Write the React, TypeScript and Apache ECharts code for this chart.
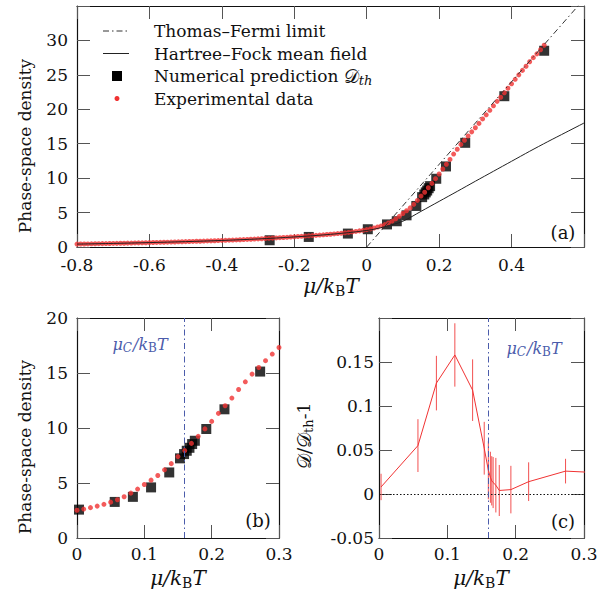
import React, { useEffect, useRef } from "react";
import * as echarts from "echarts";

const FONT = "DejaVu Serif";
const RED = "#f03232";
const BLUE = "#4b5cab";

// Experimental phase-space density, one reading every 0.01 of mu/kBT from -0.80 to 0.49
const expMuStart = -0.8;
const expMuStep = 0.01;
const expD = [
  0.42, 0.43, 0.44, 0.45, 0.46, 0.47, 0.48, 0.49, 0.5, 0.51,
  0.52, 0.53, 0.54, 0.55, 0.56, 0.57, 0.59, 0.6, 0.61, 0.62,
  0.64, 0.65, 0.66, 0.68, 0.69, 0.7, 0.72, 0.73, 0.75, 0.76,
  0.78, 0.8, 0.81, 0.83, 0.84, 0.86, 0.88, 0.89, 0.91, 0.93,
  0.95, 0.97, 0.99, 1.01, 1.03, 1.05, 1.08, 1.1, 1.12, 1.15,
  1.18, 1.2, 1.23, 1.26, 1.29, 1.32, 1.35, 1.38, 1.41, 1.45,
  1.48, 1.52, 1.55, 1.59, 1.62, 1.66, 1.7, 1.73, 1.77, 1.81,
  1.85, 1.9, 1.95, 2.0, 2.06, 2.12, 2.19, 2.26, 2.34, 2.42,
  2.52, 2.63, 2.76, 2.9, 3.06, 3.26, 3.48, 3.75, 4.08, 4.45,
  4.86, 5.26, 5.68, 6.2, 6.76, 7.4, 7.95, 8.6, 9.24, 9.92,
  10.6, 11.33, 12.02, 12.72, 13.5, 14.2, 14.9, 15.5, 16.12, 16.72,
  17.32, 17.95, 18.6, 19.2, 19.85, 20.5, 21.15, 21.75, 22.4, 23.05,
  23.7, 24.35, 25.0, 25.65, 26.25, 26.9, 27.5, 28.05, 28.65, 29.3,
];

// Numerical prediction D_th
const numMu = [-0.268, -0.16, -0.052, 0.003, 0.056, 0.083, 0.11, 0.137, 0.153, 0.159, 0.163, 0.167, 0.171, 0.175, 0.192, 0.219, 0.272, 0.38, 0.49];
const numD = [0.98, 1.46, 1.95, 2.58, 3.28, 3.74, 4.6, 5.96, 7.24, 7.63, 7.93, 8.2, 8.54, 8.84, 9.91, 11.7, 15.13, 21.9, 28.5];

// Hartree-Fock mean field
const hfMu = [-0.8, -0.7, -0.6, -0.5, -0.4, -0.3, -0.2, -0.1, 0, 0.05, 0.1, 0.15, 0.2, 0.25, 0.3, 0.35, 0.4, 0.45, 0.5, 0.55, 0.6];
const hfD = [0.42, 0.52, 0.64, 0.78, 0.95, 1.17, 1.46, 1.84, 2.4, 2.95, 3.75, 5.18, 6.63, 8.08, 9.55, 11.0, 12.45, 13.9, 15.3, 16.65, 18.0];

// Thomas-Fermi limit (straight line)
const tfMu = [0, 0.6];
const tfD = [0, 36];

// Residual D/D_th - 1 with error bars
const resMu = [0.003, 0.057, 0.084, 0.111, 0.137, 0.154, 0.16, 0.163, 0.165, 0.167, 0.171, 0.176, 0.193, 0.219, 0.273, 0.38];
const resVal = [0.008, 0.055, 0.126, 0.158, 0.118, 0.052, 0.027, 0.019, 0.015, 0.013, 0.01, 0.004, 0.005, 0.014, 0.026, 0.022];
const resErr = [0.015, 0.03, 0.031, 0.036, 0.035, 0.03, 0.033, 0.029, 0.028, 0.029, 0.031, 0.029, 0.027, 0.022, 0.014, 0.02];

const muC = 0.161;

const fmt = (hide: number[]) => (v: number) => {
  const r = Math.round(v * 100) / 100;
  if (hide.some((h) => Math.abs(h - r) < 1e-9)) return "";
  return String(r);
};

const tickStyle = { inside: true, length: 13, lineStyle: { color: "#555", width: 1 } };
const lineStyleAxis = { show: true, onZero: false, lineStyle: { color: "#111", width: 1.2 } };
const labelStyle = { fontFamily: FONT, fontSize: 17, color: "#111", lineHeight: 14 };

function xAxes(grid: number, min: number, max: number, interval: number, hide: number[], margin: number) {
  return [
    {
      type: "value", gridIndex: grid, position: "bottom", min, max, interval,
      axisLine: lineStyleAxis, axisTick: tickStyle, splitLine: { show: false },
      axisLabel: { ...labelStyle, margin, formatter: fmt(hide), showMaxLabel: true, showMinLabel: true },
    },
    {
      type: "value", gridIndex: grid, position: "top", min, max, interval,
      axisLine: lineStyleAxis, axisTick: tickStyle, splitLine: { show: false },
      axisLabel: { show: false },
    },
  ];
}
function yAxes(grid: number, min: number, max: number, interval: number, hide: number[], margin: number) {
  return [
    {
      type: "value", gridIndex: grid, position: "left", min, max, interval,
      axisLine: lineStyleAxis, axisTick: tickStyle, splitLine: { show: false },
      axisLabel: { ...labelStyle, margin, formatter: fmt(hide), showMaxLabel: true, showMinLabel: true },
    },
    {
      type: "value", gridIndex: grid, position: "right", min, max, interval,
      axisLine: lineStyleAxis, axisTick: tickStyle, splitLine: { show: false },
      axisLabel: { show: false },
    },
  ];
}

const muRich = {
  i: { fontFamily: FONT, fontSize: 20, fontStyle: "italic", fill: "#111" },
  s: { fontFamily: FONT, fontSize: 14, fill: "#111", padding: [9, 0, 0, 0] },
};
const muCRich = {
  i: { fontFamily: FONT, fontSize: 16, fontStyle: "italic", fill: BLUE },
  si: { fontFamily: FONT, fontSize: 12, fontStyle: "italic", fill: BLUE, padding: [7, 1, 0, 0] },
  s: { fontFamily: FONT, fontSize: 12, fill: BLUE, padding: [7, 0, 0, 0] },
};

function txt(x: number, y: number, text: string, extra: any = {}, rotation = 0) {
  return {
    type: "text", x, y, rotation, silent: true,
    style: { text, fontFamily: FONT, fontSize: 17, fill: "#111", align: "center", verticalAlign: "middle", ...extra },
  };
}

const MU_TITLE = "{i|μ}{i|/}{i|k}{s|B}{i|T}";
const MUC_TITLE = "{i|μ}{si|C}{i|/}{i|k}{s|B}{i|T}";

export default function App() {
  const ref = useRef<HTMLDivElement>(null);
  useEffect(() => {
    if (!ref.current) return;
    const chart = echarts.init(ref.current, undefined, { renderer: "svg" });

    const expAll = expD.map((d, i) => [Math.round((expMuStart + i * expMuStep) * 100) / 100, d]);
    const expB = expAll.filter((p) => p[0] >= -0.001 && p[0] <= 0.301);
    const numAll = numMu.map((m, i) => [m, numD[i]]);
    const numB = numAll.filter((p) => p[0] >= -0.001 && p[0] <= 0.301);
    const hf = hfMu.map((m, i) => [m, hfD[i]]);
    const tf = tfMu.map((m, i) => [m, tfD[i]]);
    const res = resMu.map((m, i) => [m, resVal[i]]);
    const bars = resMu
      .map((m, i) => [m, resVal[i] - resErr[i], resVal[i] + resErr[i]])
      .filter((p) => p[0] <= 0.3);

    const blueLine = {
      silent: true, symbol: ["none", "none"], label: { show: false },
      lineStyle: { color: BLUE, type: [6, 3, 1.5, 3], width: 1 },
      data: [{ xAxis: muC }],
    };

    const option: any = {
      animation: false,
      grid: [
        { left: 77, top: 6, width: 507, height: 241, containLabel: false },
        { left: 77, top: 318, width: 202, height: 220, containLabel: false },
        { left: 379, top: 318, width: 205, height: 220, containLabel: false },
      ],
      xAxis: [
        ...xAxes(0, -0.8, 0.6, 0.2, [0.6], 11),
        ...xAxes(1, 0, 0.3, 0.1, [], 9),
        ...xAxes(2, 0, 0.3, 0.1, [], 9),
      ],
      yAxis: [
        ...yAxes(0, 0, 35, 5, [35], 9),
        ...yAxes(1, 0, 20, 5, [], 9),
        ...yAxes(2, -0.05, 0.2, 0.05, [0.2], 5),
      ],
      series: [
        // panel (a)
        {
          name: "Numerical prediction", type: "scatter", xAxisIndex: 0, yAxisIndex: 0,
          symbol: "rect", symbolSize: 10, itemStyle: { color: "#000" }, data: numAll, z: 2,
        },
        {
          name: "Experimental data", type: "scatter", xAxisIndex: 0, yAxisIndex: 0,
          symbol: "circle", symbolSize: 5, itemStyle: { color: RED }, data: expAll, z: 3,
        },
        {
          name: "Hartree–Fock mean field", type: "line", xAxisIndex: 0, yAxisIndex: 0,
          symbol: "none", smooth: 0.3, lineStyle: { color: "#222", width: 1 }, data: hf, z: 4,
        },
        {
          name: "Thomas–Fermi limit", type: "line", xAxisIndex: 0, yAxisIndex: 0,
          symbol: "none", lineStyle: { color: "#333", width: 1, type: [6, 3, 1.5, 3] }, data: tf, z: 4,
        },
        // panel (b)
        {
          name: "b-num", type: "scatter", xAxisIndex: 2, yAxisIndex: 2,
          symbol: "rect", symbolSize: 10, itemStyle: { color: "#000" }, data: numB, z: 2,
          markLine: blueLine,
        },
        {
          name: "b-exp", type: "scatter", xAxisIndex: 2, yAxisIndex: 2,
          symbol: "circle", symbolSize: 5, itemStyle: { color: RED }, data: expB, z: 3,
        },
        // panel (c)
        {
          name: "c-res", type: "line", xAxisIndex: 4, yAxisIndex: 4,
          symbol: "none", lineStyle: { color: RED, width: 1 }, data: res, z: 3,
          markLine: {
            silent: true, symbol: ["none", "none"], label: { show: false },
            data: [
              { yAxis: 0, lineStyle: { color: "#111", type: [1.5, 2], width: 1 } },
              { xAxis: muC, lineStyle: { color: BLUE, type: [6, 3, 1.5, 3], width: 1 } },
            ],
          },
        },
        {
          name: "c-err", type: "custom", xAxisIndex: 4, yAxisIndex: 4, z: 3,
          encode: { x: 0, y: [1, 2] },
          data: bars,
          renderItem: (_p: any, api: any) => {
            const x = api.value(0);
            const a = api.coord([x, api.value(1)]);
            const b = api.coord([x, api.value(2)]);
            return {
              type: "line",
              shape: { x1: a[0], y1: a[1], x2: b[0], y2: b[1] },
              style: { stroke: "#f25050", lineWidth: 1 },
            };
          },
        },
      ],
      graphic: [
        // axis titles
        { ...txt(331, 286, MU_TITLE, { rich: muRich }) },
        { ...txt(178, 578, MU_TITLE, { rich: muRich }) },
        { ...txt(481, 578, MU_TITLE, { rich: muRich }) },
        { ...txt(25, 146, "Phase-space density", {}, Math.PI / 2) },
        { ...txt(25, 447, "Phase-space density", {}, Math.PI / 2) },
        {
          ...txt(304, 436, "{d|𝒟/𝒟}{s|th}{n|-1}", {
            rich: {
              d: { fontFamily: FONT, fontSize: 19, fill: "#111" },
              s: { fontFamily: FONT, fontSize: 13, fill: "#111", padding: [8, 0, 0, 0] },
              n: { fontFamily: FONT, fontSize: 17, fill: "#111" },
            },
          }, Math.PI / 2),
        },
        // panel labels
        { ...txt(563, 232, "(a)", { fontSize: 18 }) },
        { ...txt(258, 520, "(b)", { fontSize: 18 }) },
        { ...txt(563, 521, "(c)", { fontSize: 18 }) },
        // mu_C labels
        { ...txt(140, 344, MUC_TITLE, { rich: muCRich }) },
        { ...txt(534, 348, MUC_TITLE, { rich: muCRich }) },
        // legend
        {
          type: "line", silent: true, shape: { x1: 103, y1: 31, x2: 129, y2: 31 },
          style: { stroke: "#333", lineWidth: 1, lineDash: [6, 3, 1.5, 3] },
        },
        { ...txt(154, 31, "Thomas–Fermi limit", { align: "left" }) },
        {
          type: "line", silent: true, shape: { x1: 103, y1: 53.5, x2: 129, y2: 53.5 },
          style: { stroke: "#222", lineWidth: 1 },
        },
        { ...txt(154, 53.5, "Hartree–Fock mean field", { align: "left" }) },
        { type: "rect", silent: true, shape: { x: 112, y: 71, width: 10, height: 10 }, style: { fill: "#000" } },
        {
          ...txt(154, 76, "{t|Numerical prediction }{d|𝒟}{s|th}", {
            align: "left",
            rich: {
              t: { fontFamily: FONT, fontSize: 17, fill: "#111" },
              d: { fontFamily: FONT, fontSize: 19, fill: "#111" },
              s: { fontFamily: FONT, fontSize: 13, fontStyle: "italic", fill: "#111", padding: [8, 0, 0, 0] },
            },
          }),
        },
        { type: "circle", silent: true, shape: { cx: 117, cy: 98.5, r: 2.5 }, style: { fill: RED } },
        { ...txt(154, 98.5, "Experimental data", { align: "left" }) },
      ],
    };
    chart.setOption(option);
    return () => chart.dispose();
  }, []);
  return (
    <div
      ref={ref}
      style={{ position: "fixed", left: 0, top: 0, width: 610, height: 593, background: "#fff" }}
    />
  );
}
